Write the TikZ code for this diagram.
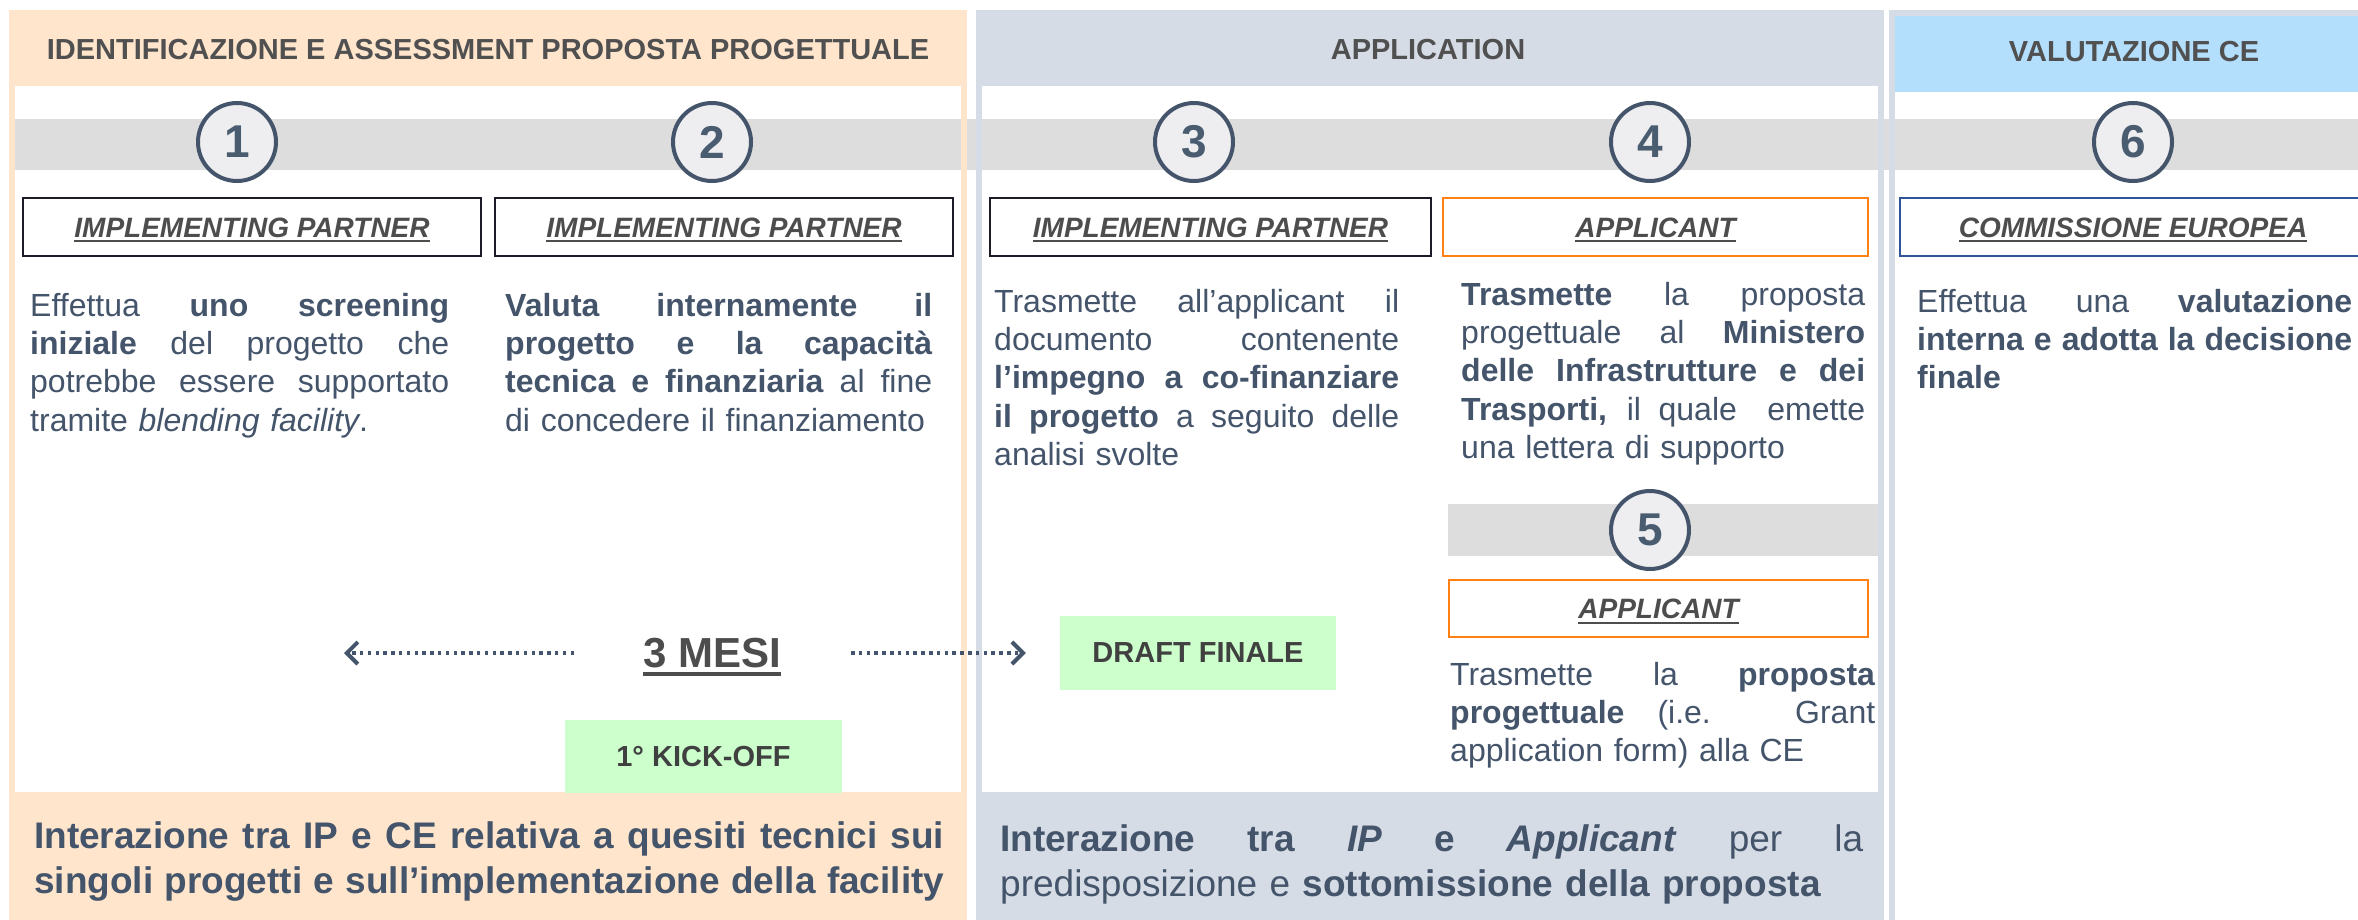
\documentclass[tikz,border=0pt]{standalone}
\usepackage{fontspec}
\setmainfont{Liberation Sans}
\usetikzlibrary{arrows.meta}
\setlength{\parindent}{0pt}
\definecolor{peach}{HTML}{FFE5CC}
\definecolor{bluegrey}{HTML}{D6DCE5}
\definecolor{lightblue}{HTML}{B3DFFC}
\definecolor{grayband}{HTML}{DDDDDD}
\definecolor{circfill}{HTML}{EEEEF0}
\definecolor{numc}{HTML}{44546A}
\definecolor{numtext}{HTML}{4A5D70}
\definecolor{bodyc}{HTML}{44546A}
\definecolor{hdrc}{HTML}{505050}
\definecolor{lblc}{HTML}{4D4D4D}
\definecolor{greenbox}{HTML}{CCFFCC}
\definecolor{gtext}{HTML}{404040}
\definecolor{ipc}{HTML}{1C1C28}
\definecolor{orangec}{HTML}{FF8112}
\definecolor{cec}{HTML}{2F5597}
\newsavebox{\ulsave}
\newlength{\jw}
\newcommand{\ulx}[3]{\sbox\ulsave{#3}\rlap{\rule[-#1]{\wd\ulsave}{#2}}\usebox\ulsave}
\newcommand{\jl}[1]{\makebox[\jw][s]{\spaceskip=0pt\xspaceskip=0pt #1}}
\tikzset{
  hdr/.style={font=\fontsize{29}{34}\selectfont\bfseries, text=hdrc, inner sep=0pt},
  abox/.style={draw, line width=2.5pt, fill=white, inner sep=0pt,
    font=\fontsize{28}{32}\selectfont\bfseries\itshape, text=lblc,
    text height=20pt, text depth=0pt},
  num/.style={circle, draw=numc, line width=4pt, fill=circfill, minimum size=78pt,
    inner sep=0pt, font=\fontsize{46}{46}\selectfont\bfseries, text=numtext},
  jwidth/.style={text width=#1, execute at begin node={\setlength{\jw}{#1}}},
  body/.style={font=\fontsize{32}{38.4}\selectfont, text=bodyc, align=left,
    inner sep=0pt, anchor=north west},
  bottomtxt/.style={font=\fontsize{37}{45}\selectfont, text=bodyc, align=left,
    inner sep=0pt, anchor=north west},
  gbox/.style={fill=greenbox, inner sep=0pt, font=\fontsize{29}{34}\selectfont\bfseries,
    text=gtext},
  dotarrow/.style={draw=bodyc, line width=4pt, dash pattern=on 3.5pt off 4.3pt,
    -{Straight Barb[length=11pt,width=22pt]}}
}
\begin{document}
\begin{tikzpicture}[x=1pt,y=-1pt]
\useasboundingbox (0,0) rectangle (2358,920);
\fill[white] (0,0) rectangle (2358,920);
% columns
\fill[peach] (9,10) rectangle (967,920);
\fill[white] (15,86) rectangle (961,792);
\fill[bluegrey] (976,10) rectangle (1884,920);
\fill[white] (982,86) rectangle (1878,792);
\fill[bluegrey] (1889,10) rectangle (2358,920);
\fill[white] (1895,16) rectangle (2358,920);
\fill[lightblue] (1895,16) rectangle (2358,92);
% gray bands
\fill[grayband] (15,119) rectangle (2358,170);
\fill[peach] (961,86) rectangle (967,792);
\fill[bluegrey] (976,86) rectangle (982,792);
\fill[bluegrey] (1878,86) rectangle (1884,792);
\fill[bluegrey] (1889,92) rectangle (1895,920);
\fill[grayband] (1448,504) rectangle (1878,556);
% headers
\node[hdr] (h1) at (488,50) {IDENTIFICAZIONE E ASSESSMENT PROPOSTA PROGETTUALE};
\node[hdr] (h2) at (1428,50) {APPLICATION};
\node[hdr] (h3) at (2134,52) {VALUTAZIONE CE};
% circles
\node[num] (c1) at (237,142) {1};
\node[num] (c2) at (712,142) {2};
\node[num] (c3) at (1194,142) {3};
\node[num] (c4) at (1650,142) {4};
\node[num] (c5) at (1650,530) {5};
\node[num] (c6) at (2133,142) {6};
% actor boxes
\node[abox, draw=ipc, minimum width=458pt, minimum height=58pt] (b1) at (252,227) {\ulx{5pt}{2pt}{IMPLEMENTING PARTNER}};
\node[abox, draw=ipc, minimum width=458pt, minimum height=58pt] (b2) at (724,227) {\ulx{5pt}{2pt}{IMPLEMENTING PARTNER}};
\node[abox, draw=ipc, minimum width=441pt, minimum height=58pt] (b3) at (1210.5,227) {\ulx{5pt}{2pt}{IMPLEMENTING PARTNER}};
\node[abox, draw=orangec, minimum width=425pt, minimum height=58pt] (b4) at (1655.5,227) {\ulx{5pt}{2pt}{APPLICANT}};
\node[abox, draw=orangec, minimum width=419pt, minimum height=57pt] (b5) at (1658.5,608.5) {\ulx{5pt}{2pt}{APPLICANT}};
\node[abox, draw=cec, minimum width=466pt, minimum height=58pt] (b6) at (2133,227) {\ulx{5pt}{2pt}{COMMISSIONE EUROPEA}};
% body texts
\node[body, jwidth=419pt] (t1) at (30,289) {\strut\jl{Effettua \textbf{uno screening}}\\\jl{\textbf{iniziale} del progetto che}\\\jl{potrebbe essere supportato}\\tramite \textit{blending facility}.};
\node[body, jwidth=427pt] (t2) at (505,289) {\strut\jl{\textbf{Valuta internamente il}}\\\jl{\textbf{progetto e la capacità}}\\\jl{\textbf{tecnica e finanziaria} al fine}\\di concedere il finanziamento};
\node[body, jwidth=405pt] (t3) at (994,285) {\strut\jl{Trasmette all’applicant il}\\\jl{documento contenente}\\\jl{\textbf{l’impegno a co-finanziare}}\\\jl{\textbf{il progetto} a seguito delle}\\analisi svolte};
\node[body, jwidth=404pt] (t4) at (1461,278) {\strut\jl{\textbf{Trasmette} la proposta}\\\jl{progettuale al \textbf{Ministero}}\\\jl{\textbf{delle Infrastrutture e dei}}\\\jl{\textbf{Trasporti,} il quale\hspace{0.4em} emette}\\una lettera di supporto};
\node[body, jwidth=425pt] (t5) at (1450,658) {\strut\jl{Trasmette la \textbf{proposta}}\\\jl{\textbf{progettuale} (i.e. Grant}\\application form) alla CE};
\node[body, jwidth=435pt] (t6) at (1917,285) {\strut\jl{Effettua una \textbf{valutazione}}\\\jl{\textbf{interna e adotta la decisione}}\\\textbf{finale}};
% timeline
\node[gbox, minimum width=277pt, minimum height=73pt] (kick) at (703.5,756.5) {1° KICK-OFF};
\node[gbox, minimum width=276pt, minimum height=74pt] (draft) at (1198,653) {DRAFT FINALE};
\node[font=\fontsize{42}{48}\selectfont\bfseries, text=lblc, anchor=base, inner sep=0pt] (mesi) at (712,667) {\ulx{9pt}{4pt}{3 MESI}};
\coordinate (la1) at (574,653);
\coordinate (la2) at (344,653);
\coordinate (ra1) at (851,653);
\draw[dotarrow] (la1) -- (la2);
\draw[dotarrow, shorten >=34pt] (ra1) -- (draft.west);
% bottom texts
\node[bottomtxt, jwidth=910pt] (bt1) at (34,816.5) {\bfseries\strut\jl{Interazione tra IP e CE relativa a quesiti tecnici sui}\\\jl{singoli progetti e sull’implementazione della facility}};
\node[bottomtxt, jwidth=863pt] (bt2) at (1000,819.5) {\strut\jl{\textbf{Interazione tra \textit{IP} e \textit{Applicant}} per la}\\predisposizione e \textbf{sottomissione della proposta}};
\end{tikzpicture}
\end{document}
